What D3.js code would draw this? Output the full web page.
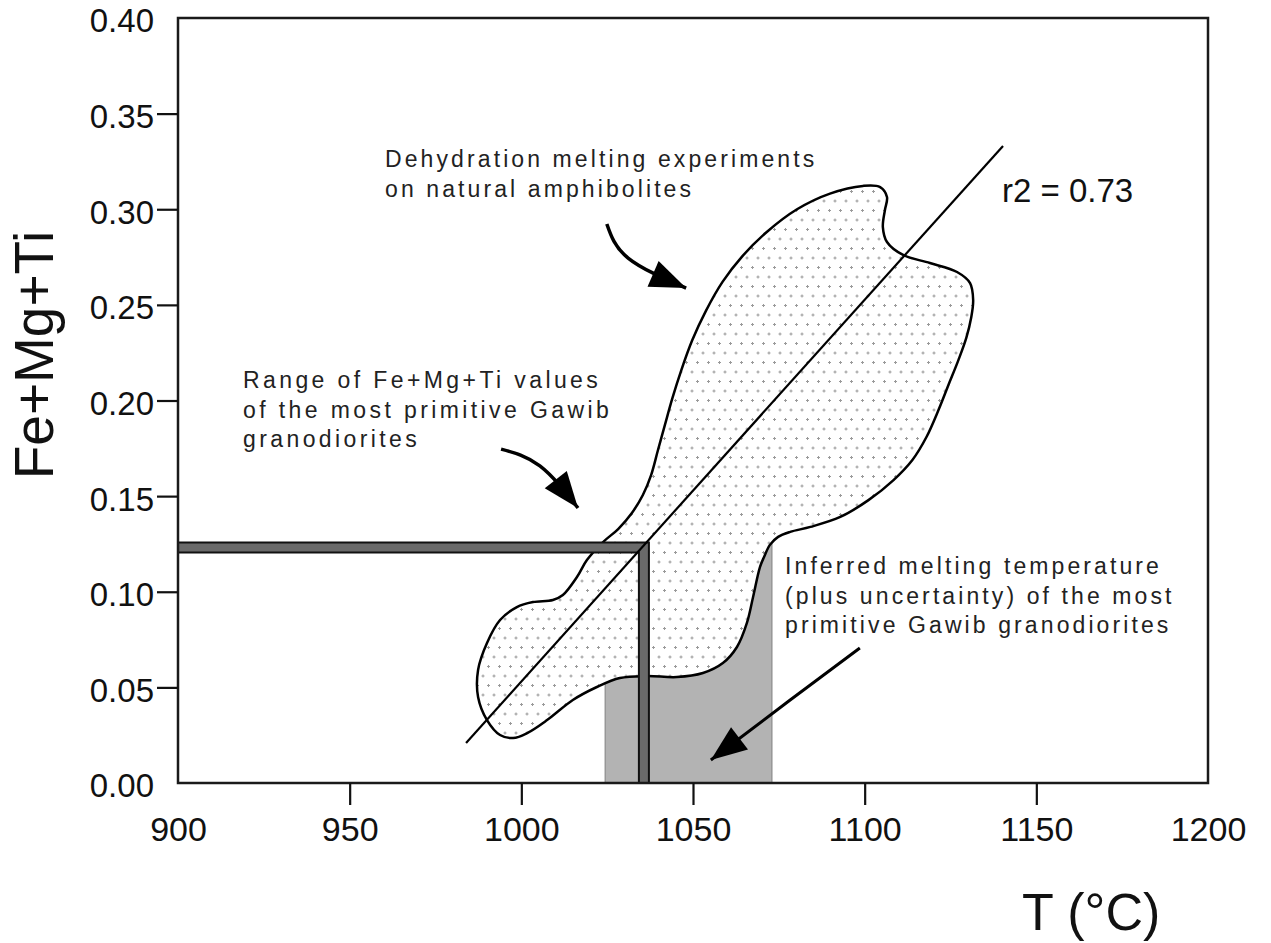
<!doctype html>
<html lang="en">
<head>
  <style>
    body { margin: 0; background: #fff; }
    .tick text { font: 34px "Liberation Sans", Arial, sans-serif; fill: #111; }
    .note { font: 23px "Liberation Sans", Arial, sans-serif; letter-spacing: 3.1px; fill: #222; }
  </style>
  <script src="https://d3js.org/d3.v7.min.js"></script>
</head>
<body>
  <script>
    // axis ticks
    const xTicks = [900, 950, 1000, 1050, 1100, 1150, 1200];
    const yTicks = [0, 0.05, 0.10, 0.15, 0.20, 0.25, 0.30, 0.35, 0.40];

    // outline of the dehydration melting field [T, Fe+Mg+Ti]
    const fieldOutline = [
      [1099.5, 0.3122], [1104.5, 0.3116], [1106.5, 0.3064], [1105.9, 0.2996], [1105.3, 0.2907],
      [1106.5, 0.2829], [1111.2, 0.2761], [1119.0, 0.2719], [1126.9, 0.2672], [1130.7, 0.2614],
      [1131.6, 0.2525], [1131.0, 0.2431], [1129.6, 0.2327], [1127.3, 0.2211], [1124.4, 0.2081],
      [1121.5, 0.1950], [1118.0, 0.1809], [1113.9, 0.1689], [1108.4, 0.1584], [1101.1, 0.1479],
      [1092.9, 0.1391], [1084.2, 0.1339], [1078.3, 0.1313], [1074.8, 0.1287], [1072.4, 0.1245],
      [1070.7, 0.1182], [1069.5, 0.1129], [1067.5, 0.0973],
      [1065.7, 0.0837], [1062.8, 0.0711], [1058.7, 0.0627], [1052.9, 0.0575], [1045.3, 0.0554],
      [1036.6, 0.0559], [1028.7, 0.0549], [1022.0, 0.0502], [1015.0, 0.0434], [1007.5, 0.0329],
      [1001.7, 0.0261], [997.6, 0.0235], [993.8, 0.0251], [990.0, 0.0329], [987.4, 0.0450],
      [987.4, 0.0591], [990.0, 0.0732], [993.8, 0.0852], [998.7, 0.0920], [1003.4, 0.0946],
      [1009.2, 0.0957], [1012.1, 0.0983], [1016.2, 0.1077], [1019.1, 0.1166], [1023.8, 0.1260],
      [1028.2, 0.1328], [1032.2, 0.1412], [1035.4, 0.1506], [1037.8, 0.1610], [1039.8, 0.1741],
      [1041.8, 0.1871], [1044.0, 0.2012], [1046.6, 0.2159], [1049.8, 0.2316], [1053.8, 0.2470],
      [1058.6, 0.2620], [1064.4, 0.2755], [1071.4, 0.2880], [1080.3, 0.3000], [1089.9, 0.3082]
    ];

    // regression line end points
    const regression = [[983.9, 0.0209], [1140.3, 0.3331]];

    // Fe+Mg+Ti of primitive granodiorites and the inferred temperature
    const granoValue = 0.1231;
    const granoTemp = 1035.7;
    const tempRange = [1024.4, 1073.0];
    const tempRangeTop = 0.125;

    // annotation arrows: start, bend, tip
    const arrows = [
      [[1024.9, 0.2923], [1031.1, 0.2745], [1048.0, 0.2588]],
      [[994.1, 0.1746], [1005.4, 0.1658], [1016.5, 0.1438]],
      [[1098.6, 0.0706], [1078.3, 0.0434], [1055.2, 0.0120]]
    ];

    const notes = [
      { x: 385, y: 167, ls: 3.1, lines: ["Dehydration melting experiments", "on natural amphibolites"] },
      { x: 243, y: 388, ls: 3.4, lines: ["Range of Fe+Mg+Ti values", "of the most primitive Gawib", "granodiorites"] },
      { x: 785, y: 574, ls: 3.1, lines: ["Inferred melting temperature", "(plus uncertainty) of the most", "primitive Gawib granodiorites"] }
    ];

    const margin = { top: 18, right: 63, bottom: 160, left: 178 };
    const width = 1271 - margin.left - margin.right;
    const height = 943 - margin.top - margin.bottom;

    const svgRoot = d3.select("body")
      .append("svg")
      .attr("width", 1271)
      .attr("height", 943);

    const defs = svgRoot.append("defs");
    const pat = defs.append("pattern")
      .attr("id", "dots")
      .attr("patternUnits", "userSpaceOnUse")
      .attr("width", 11)
      .attr("height", 19);
    pat.append("rect").attr("width", 11).attr("height", 19).attr("fill", "#fff");
    [[2.5, 2.5], [8, 12]].forEach(([cx, cy]) => {
      pat.append("path")
        .attr("d", `M${cx - 1.5},${cy}H${cx + 1.5}M${cx},${cy - 1.5}V${cy + 1.5}`)
        .attr("stroke", "#9a9a9a")
        .attr("stroke-width", 1);
    });

    defs.append("marker")
      .attr("id", "head")
      .attr("viewBox", "-38 -15 40 30")
      .attr("markerUnits", "userSpaceOnUse")
      .attr("markerWidth", 40)
      .attr("markerHeight", 30)
      .attr("refX", 0)
      .attr("refY", 0)
      .attr("orient", "auto")
      .append("path")
      .attr("d", "M0,0L-36,-14L-36,14Z")
      .attr("fill", "#000");

    const svg = svgRoot.append("g")
      .attr("transform", `translate(${margin.left},${margin.top})`);

    const x = d3.scaleLinear().domain([900, 1200]).range([0, width]);
    const y = d3.scaleLinear().domain([0, 0.40]).range([height, 0]);

    // shaded temperature range
    svg.append("rect")
      .attr("x", x(tempRange[0]))
      .attr("width", x(tempRange[1]) - x(tempRange[0]))
      .attr("y", y(tempRangeTop))
      .attr("height", y(0) - y(tempRangeTop))
      .attr("fill", "#b3b3b3")
      .attr("stroke", "#808080")
      .attr("stroke-width", 1);

    // experimental field
    svg.append("path")
      .datum(fieldOutline)
      .attr("d", d3.line().x(d => x(d[0])).y(d => y(d[1])).curve(d3.curveCatmullRomClosed.alpha(0.5)))
      .attr("fill", "url(#dots)")
      .attr("stroke", "#000")
      .attr("stroke-width", 2.5);

    // thick L bars
    const barPts = [[900, granoValue], [granoTemp, granoValue], [granoTemp, 0]];
    const barLine = d3.line().x(d => x(d[0])).y(d => y(d[1]));
    svg.append("path").attr("d", barLine(barPts))
      .attr("fill", "none").attr("stroke", "#111").attr("stroke-width", 12);
    svg.append("path").attr("d", barLine(barPts))
      .attr("fill", "none").attr("stroke", "#6a6a6a").attr("stroke-width", 8);

    // regression line
    svg.append("path")
      .datum(regression)
      .attr("d", d3.line().x(d => x(d[0])).y(d => y(d[1])))
      .attr("stroke", "#000")
      .attr("stroke-width", 2.2);

    // frame
    svg.append("rect")
      .attr("width", width)
      .attr("height", height)
      .attr("fill", "none")
      .attr("stroke", "#1a1a1a")
      .attr("stroke-width", 2.5);

    // axes
    const xAxis = svg.append("g")
      .attr("transform", `translate(0,${height})`)
      .call(d3.axisBottom(x).tickValues(xTicks).tickFormat(d3.format("d"))
        .tickSizeInner(22).tickSizeOuter(0).tickPadding(12));
    const yAxis = svg.append("g")
      .call(d3.axisLeft(y).tickValues(yTicks).tickFormat(d3.format(".2f"))
        .tickSizeInner(21).tickSizeOuter(0).tickPadding(3));
    yAxis.selectAll(".tick text").attr("dy", "0.42em").style("font-size", "33px");
    [xAxis, yAxis].forEach(a => {
      a.select(".domain").remove();
      a.selectAll(".tick line").attr("stroke", "#111").attr("stroke-width", 2.2)
        .filter((d, i, n) => i === 0 || i === n.length - 1).remove();
    });

    // arrows
    arrows.forEach((a, i) => {
      svg.append("path")
        .datum(a)
        .attr("d", d3.line().x(d => x(d[0])).y(d => y(d[1])).curve(d3.curveNatural))
        .attr("fill", "none")
        .attr("stroke", "#000")
        .attr("stroke-width", i === 2 ? 3 : 3.5)
        .attr("marker-end", "url(#head)");
    });

    // notes
    notes.forEach(n => {
      const t = svgRoot.append("text").attr("class", "note").style("letter-spacing", n.ls + "px");
      n.lines.forEach((l, i) => {
        t.append("tspan").attr("x", n.x).attr("y", n.y + i * 29.5).text(l);
      });
    });

    svgRoot.append("text")
      .attr("x", 1002).attr("y", 202)
      .style("font", "33px 'Liberation Sans', Arial, sans-serif")
      .attr("fill", "#111")
      .text("r2 = 0.73");

    // axis titles
    svgRoot.append("text")
      .attr("transform", "translate(53,355) rotate(-90)")
      .attr("text-anchor", "middle")
      .style("font", "55px 'Liberation Sans', Arial, sans-serif")
      .attr("fill", "#111")
      .text("Fe+Mg+Ti");

    svgRoot.append("text")
      .attr("x", 1022).attr("y", 930)
      .style("font", "52px 'Liberation Sans', Arial, sans-serif")
      .attr("fill", "#111")
      .text("T (°C)");
  </script>
</body>
</html>
